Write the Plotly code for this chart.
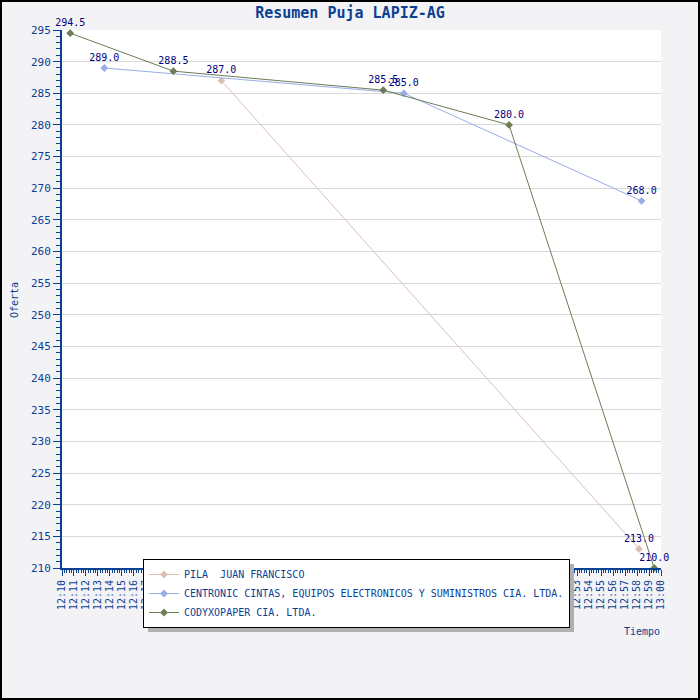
"""Resumen de la puja LAPIZ-AG con Plotly."""
import plotly.graph_objects as go

FECHA = '2024-01-01 '

# Ofertas por proveedor (hora, valor)
pila_horas = ['12:23:18', '12:58:10']
pila_ofertas = [287.0, 213.0]

centronic_horas = ['12:13:32', '12:38:32', '12:58:23']
centronic_ofertas = [289.0, 285.0, 268.0]

codyx_horas = ['12:10:41', '12:19:18', '12:36:49', '12:47:19', '12:59:26']
codyx_ofertas = [294.5, 288.5, 285.5, 280.0, 210.0]

series = [
    ('PILA  JUAN FRANCISCO', pila_horas, pila_ofertas, '#dcbfb0'),
    ('CENTRONIC CINTAS, EQUIPOS ELECTRONICOS Y SUMINISTROS CIA. LTDA.',
     centronic_horas, centronic_ofertas, '#98aee8'),
    ('CODYXOPAPER CIA. LTDA.', codyx_horas, codyx_ofertas, '#6d7d55'),
]

FUENTE = 'DejaVu Sans Mono'
AZUL = '#0b4193'

fig = go.Figure()
for nombre, horas, ofertas, color in series:
    fig.add_trace(go.Scatter(
        x=[FECHA + h for h in horas],
        y=ofertas,
        mode='lines+markers+text',
        name=nombre,
        text=[f'{v:.1f}' for v in ofertas],
        textposition='top center',
        textfont=dict(family=FUENTE, size=10, color='#000080'),
        line=dict(color=color, width=1),
        marker=dict(symbol='diamond', size=6, color=color),
        cliponaxis=False,
    ))

W, H = 700, 700
L, R, T, B = 62, 39, 30, 132
pw, ph = W - L - R, H - T - B


def px(x):
    return (x - L) / pw


def py(y):
    return (H - B - y) / ph


fig.update_layout(
    width=W, height=H,
    margin=dict(l=L, r=R, t=T, b=B),
    paper_bgcolor='#f3f3f6',
    plot_bgcolor='white',
    font=dict(family=FUENTE, size=10, color=AZUL),
    title=dict(text='<b>Resumen Puja LAPIZ-AG</b>', x=0.5, xanchor='center',
               y=1 - 13 / H, yanchor='middle',
               font=dict(family=FUENTE, size=15, color=AZUL)),
    showlegend=True,
    legend=dict(
        x=px(143), y=py(559), xanchor='left', yanchor='top',
        bgcolor='white', bordercolor='black', borderwidth=1,
        font=dict(family=FUENTE, size=10, color=AZUL),
        tracegroupgap=0, itemwidth=30,
    ),
    xaxis=dict(
        type='date',
        range=[FECHA + '12:10:00', FECHA + '13:00:00'],
        dtick=60000, tickformat='%H:%M', tickangle=-90,
        showgrid=False, zeroline=False,
        showline=True, linecolor=AZUL, linewidth=2,
        ticks='outside', ticklen=6, tickcolor=AZUL,
        tickfont=dict(family=FUENTE, size=10, color=AZUL),
        minor=dict(dtick=12000, ticks='outside', ticklen=3, tickcolor=AZUL),
    ),
    yaxis=dict(
        range=[210, 295], dtick=5, tick0=210,
        showgrid=True, gridcolor='#d9d9d9', gridwidth=1, zeroline=False,
        showline=True, linecolor=AZUL, linewidth=2,
        ticks='outside', ticklen=7, tickcolor=AZUL,
        tickfont=dict(family=FUENTE, size=11, color=AZUL),
        minor=dict(dtick=1, ticks='outside', ticklen=4, tickcolor=AZUL),
    ),
    annotations=[
        dict(text='Oferta', xref='paper', yref='paper',
             x=px(14), y=py(300), textangle=-90,
             xanchor='center', yanchor='middle',
             showarrow=False, font=dict(family=FUENTE, size=10, color=AZUL)),
        dict(text='Tiempo', xref='paper', yref='paper',
             x=px(642), y=py(631),
             xanchor='center', yanchor='middle',
             showarrow=False, font=dict(family=FUENTE, size=10, color=AZUL)),
    ],
    shapes=[
        # sombra de la leyenda
        dict(type='rect', xref='paper', yref='paper', layer='above',
             x0=px(148), x1=px(574), y0=py(632), y1=py(564),
             fillcolor='#b0b0b0', line=dict(width=0)),
        # borde exterior
        dict(type='rect', xref='paper', yref='paper',
             x0=px(1), x1=px(W - 1), y0=py(H - 1), y1=py(1),
             line=dict(color='black', width=2)),
    ],
)

fig.write_html('out.html', config={'displayModeBar': False},
               post_script="document.body.style.margin='0';")
